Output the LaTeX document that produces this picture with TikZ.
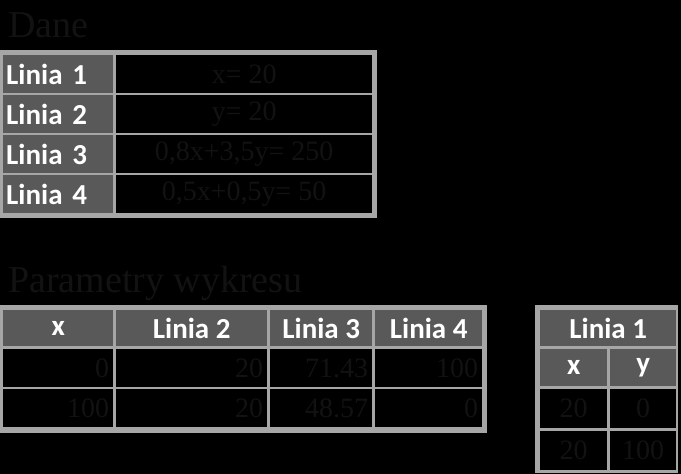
\documentclass[tikz,border=0pt]{standalone}
\usepackage{fontspec}
\setmainfont{Liberation Serif}
\newfontfamily\cellfont{Carlito}
\definecolor{rama}{HTML}{A6A6A6}
\definecolor{naglowek}{HTML}{595959}
\definecolor{tusz}{HTML}{121212}
\begin{document}
\begin{tikzpicture}[x=1pt,y=-1pt,line join=round,
	hcell/.style={fill=naglowek,text=white,anchor=north west,inner sep=0pt,font=\cellfont\bfseries\fontsize{29}{29}\selectfont},
	vcell/.style={fill=black,text=tusz,anchor=north west,inner sep=0pt,font=\fontsize{28}{28}\selectfont},
	title/.style={text=tusz,anchor=base west,inner sep=0pt,font=\fontsize{38}{38}\selectfont}]
	\fill[black] (0,0) rectangle (681,474);
	\useasboundingbox (0,0) rectangle (681,474);
	% Dane
	\node[title] (dane) at (8,37) {Dane};
	\fill[rama] (0,50) rectangle (377,218);
	\foreach \n/\t/\y in{1/{x= 20}/55,2/{y= 20}/95,3/{0,8x+3,5y= 250}/135,4/{0,5x+0,5y= 50}/175}
		{\node[hcell,minimum height=37.5,text width=104pt,inner xsep=3pt,align=left] (l\n) at (3,\y) {Linia \n};
		\node[vcell,minimum width=256,minimum height=37.5] (r\n) at (116,\y) {\t};}
	% Parametry wykresu
	\node[title] (param) at (8,292) {Parametry wykresu};
	\fill[rama] (0,305) rectangle (487,433);
	\foreach \c/\x/\w/\h/\a/\b in{1/3/110/x/0/100,2/116/151/Linia 2/20/20,3/270/102/Linia 3/71.43/48.57,4/375/107/Linia 4/100/0}
		{\pgfmathsetmacro\tw{\w-8}
		\node[hcell,minimum width=\w,minimum height=36] (p\c) at (\x,310) {\h};
		\node[vcell,minimum height=37.5,text width=\tw pt,inner xsep=4pt,align=right] (pa\c) at (\x,349) {\a};
		\node[vcell,minimum height=38,text width=\tw pt,inner xsep=4pt,align=right] (pb\c) at (\x,389) {\b};}
	% Linia 1
	\fill[rama] (535,305) rectangle (678,473);
	\node[hcell,minimum width=136,minimum height=36] (l1h) at (540,310) {Linia 1};
	\foreach \c/\x/\w/\h/\a/\b in{x/540/67/x/20/20,y/610/66/y/0/100}
		{\node[hcell,minimum width=\w,minimum height=37] (k\c) at (\x,349) {\h};
		\node[vcell,minimum width=\w,minimum height=39] (ka\c) at (\x,389) {\a};
		\node[vcell,minimum width=\w,minimum height=39] (kb\c) at (\x,431) {\b};}
\end{tikzpicture}
\end{document}
